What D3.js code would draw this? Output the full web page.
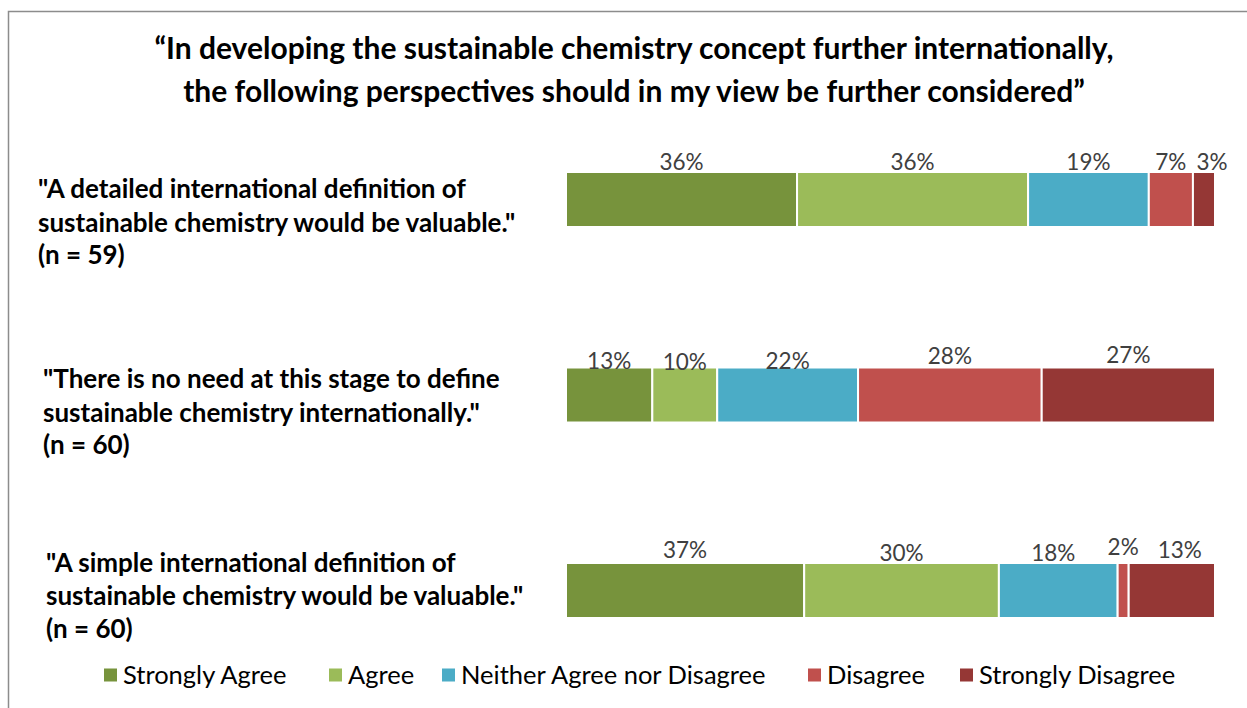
<!DOCTYPE html>
<html><head><meta charset="utf-8">
<script src="https://cdn.jsdelivr.net/npm/d3@7"></script>
<style>body{margin:0;background:#fff}svg{display:block}</style>
</head><body>
<svg id="c" width="1247" height="708"></svg>
<script>
// ---- data ----
const titleLines = ["\u201CIn developing the sustainable chemistry concept further internationally,",
                    "the following perspectives should in my view be further considered\u201D"];
const categories = ["detailed", "noneed", "simple"];
const categoryLabels = [
  ["\"A detailed international definition of", "sustainable chemistry would be valuable.\"", "(n = 59)"],
  ["\"There is no need at this stage to define", "sustainable chemistry internationally.\"", "(n = 60)"],
  ["\"A simple international definition of", "sustainable chemistry would be valuable.\"", "(n = 60)"]
];
const seriesNames = ["Strongly Agree", "Agree", "Neither Agree nor Disagree", "Disagree", "Strongly Disagree"];
const stronglyAgree = [35.6, 13.3, 36.7];
const agree         = [35.6, 10.0, 30.0];
const neither       = [18.6, 21.7, 18.3];
const disagree      = [6.8, 28.3, 1.7];
const stronglyDis   = [3.4, 26.7, 13.3];
const seriesValues = [stronglyAgree, agree, neither, disagree, stronglyDis];

// ---- style/layout ----
const colors = ["#77933C", "#9BBB59", "#4BACC6", "#C0504D", "#953735"];
// per-label nudges (dx, dy) relative to default placement above each segment
const labelNudge = [
  [[0,0],[0,0],[0,0],[0,0],[8,0]],
  [[0,3],[0,4],[0,3],[0,-2],[0,-3]],
  [[0,-3],[0,0],[-5,0],[0,-6],[8,-3]]
];
const labelX = [38, 43, 46];
const labelBase = [[198, 232, 264], [388, 422, 454], [572, 605, 638]];
const FONT = "Lato, 'Open Sans', sans-serif";

const svg = d3.select("#c");
const W = 1247, H = 708;

// frame
svg.append("path").attr("d", `M8.5,${H} V11.5 H${W}`).attr("fill", "none")
  .attr("stroke", "#8c8c8c").attr("stroke-width", 1.5);

// title
svg.append("g").selectAll("text").data(titleLines).join("text")
  .attr("x", 634).attr("y", (d, i) => 59 + i * 43)
  .attr("text-anchor", "middle")
  .attr("font-family", FONT).attr("font-weight", "bold")
  .attr("font-size", 30).attr("fill", "#000").text(d => d);

const x = d3.scaleLinear().domain([0, 100]).range([566, 1215]);
const y = d3.scalePoint().domain(categories).range([199.5, 590.5]);
const barH = 55;

const stacked = d3.stack().keys(d3.range(seriesNames.length))
  .value((row, k) => row[k])(categories.map((c, i) => seriesValues.map(s => s[i])));

const fmt = v => Math.round(v) + "%";

const gSeries = svg.append("g").selectAll("g").data(stacked).join("g")
  .attr("fill", (d, i) => colors[i]);

gSeries.selectAll("rect").data(d => d).join("rect")
  .attr("x", d => x(d[0]))
  .attr("width", d => x(d[1]) - x(d[0]))
  .attr("y", (d, i) => y(categories[i]) - barH / 2)
  .attr("height", barH)
  .attr("stroke", "#fff").attr("stroke-width", 2);

// value labels
stacked.forEach((s, k) => {
  svg.append("g").selectAll("text").data(s).join("text")
    .attr("x", (d, i) => (x(d[0]) + x(d[1])) / 2 + labelNudge[i][k][0])
    .attr("y", (d, i) => y(categories[i]) - barH / 2 - 2 + labelNudge[i][k][1])
    .attr("text-anchor", "middle")
    .attr("font-family", FONT)
    .attr("font-size", 22.5).attr("fill", "#404040")
    .text((d, i) => fmt(seriesValues[k][i]));
});

// category labels
categoryLabels.forEach((lines, i) => {
  svg.append("g").selectAll("text").data(lines).join("text")
    .attr("x", labelX[i]).attr("y", (d, j) => labelBase[i][j])
    .attr("font-family", FONT).attr("font-weight", "bold")
    .attr("font-size", 26).attr("fill", "#000").text(d => d);
});

// legend
const legendX = [104, 329, 442, 808, 960];
const legY = 675;
const lg = svg.append("g").selectAll("g").data(seriesNames).join("g")
  .attr("transform", (d, i) => `translate(${legendX[i]},${legY})`);
lg.append("rect").attr("x", 0).attr("y", -6.5).attr("width", 13).attr("height", 13)
  .attr("fill", (d, i) => colors[i]);
lg.append("text").attr("x", 19).attr("y", 8.5)
  .attr("font-family", FONT)
  .attr("font-size", 25.5).attr("fill", "#000").text(d => d);
</script>
</body></html>
